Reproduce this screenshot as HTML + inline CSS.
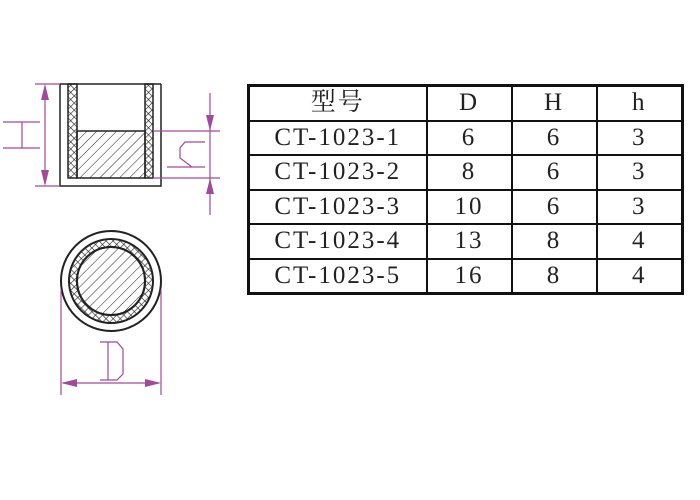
<!DOCTYPE html>
<html><head><meta charset="utf-8"><style>
body{margin:0;width:700px;height:500px;background:#fff;overflow:hidden;position:relative}
table{position:absolute;left:247px;top:84px;width:434px;border-collapse:collapse;border:3px solid #111;table-layout:fixed}
td{border:2px solid #111;padding:0;text-align:center;font-family:"Liberation Serif","Noto Serif CJK SC",serif;font-size:25px;letter-spacing:2px;color:#222;height:32.5px;line-height:32px;overflow:hidden}
</style></head><body>
<svg width="700" height="500" style="position:absolute;left:0;top:0">
<defs>
<pattern id="diag" width="7" height="7" patternUnits="userSpaceOnUse" patternTransform="rotate(45)"><line x1="0" y1="0" x2="0" y2="7" stroke="#222" stroke-width="1"/></pattern>
<pattern id="cross" width="5" height="5" patternUnits="userSpaceOnUse" patternTransform="rotate(45)"><path d="M0 0V5M0 0H5" stroke="#222" stroke-width="1.2"/></pattern>
</defs>
<g stroke="#222" stroke-width="1.5" fill="none">
<path d="M60 84 V186 H161 V84" />
<line x1="60" y1="84" x2="161" y2="84"/>
<rect x="68" y="84" width="9" height="94" fill="url(#cross)"/>
<rect x="145" y="84" width="8" height="94" fill="url(#cross)"/>
<rect x="77" y="131" width="68" height="47" fill="url(#diag)"/>
<circle cx="111" cy="281" r="50" stroke-width="2"/>
<circle cx="111" cy="281" r="42" fill="url(#cross)" stroke-width="2"/>
<circle cx="111" cy="281" r="34" fill="#fff" stroke-width="2"/>
<circle cx="111" cy="281" r="34" fill="url(#diag)" stroke-width="2"/>
</g>
<g stroke="#a24a9a" stroke-width="1.2" fill="none">
<line x1="35" y1="84" x2="60" y2="84"/><line x1="35" y1="186" x2="60" y2="186"/>
<line x1="45" y1="86" x2="45" y2="184"/>
<path d="M3 122H40M3 148H40M22 122V148"/>
<line x1="153" y1="131" x2="220" y2="131"/><line x1="153" y1="178" x2="220" y2="178"/>
<line x1="210" y1="93" x2="210" y2="215"/>
<path d="M205 142H185L180 148V158L192 167M167 167H205"/>
<line x1="61" y1="290" x2="61" y2="395"/><line x1="161" y1="290" x2="161" y2="395"/>
<line x1="63" y1="383" x2="159" y2="383"/>
<path d="M100 342H117L123 349V374L117 380H100M108 342V380"/>
</g>
<g fill="#a24a9a">
<polygon points="45,84 41,100 49,100"/><polygon points="45,186 41,170 49,170"/>
<polygon points="210,131 206,115 214,115"/><polygon points="210,178 206,194 214,194"/>
<polygon points="61,383 77,379 77,387"/><polygon points="161,383 145,379 145,387"/>
</g>
</svg>
<table>
<colgroup><col style="width:178px"><col style="width:85px"><col style="width:85px"><col style="width:86px"></colgroup>
<tr><td>型号</td><td>D</td><td>H</td><td>h</td></tr>
<tr><td>CT-1023-1</td><td>6</td><td>6</td><td>3</td></tr>
<tr><td>CT-1023-2</td><td>8</td><td>6</td><td>3</td></tr>
<tr><td>CT-1023-3</td><td>10</td><td>6</td><td>3</td></tr>
<tr><td>CT-1023-4</td><td>13</td><td>8</td><td>4</td></tr>
<tr><td>CT-1023-5</td><td>16</td><td>8</td><td>4</td></tr>
</table>
</body></html>
